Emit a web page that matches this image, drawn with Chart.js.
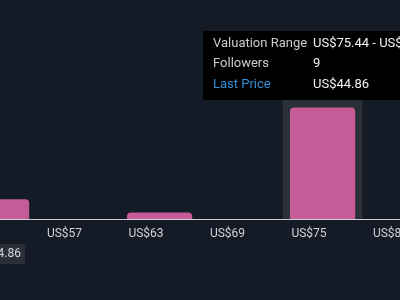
<!DOCTYPE html>
<html>
<head>
<meta charset="utf-8">
<script src="https://cdn.jsdelivr.net/npm/chart.js@4/dist/chart.umd.min.js"></script>
<style>
  html, body { margin: 0; padding: 0; background: #151b26; }
  canvas { display: block; }
</style>
</head>
<body>
<canvas id="myChart" width="400" height="300"></canvas>
<script>
// Les donnees du graphique (histogramme des valorisations)
const binCenters = [52, 58, 64, 70, 76, 82] // centre de chaque tranche (US$)
const followers = [2, null, 1, null, 9, null] // nombre de followers par tranche
const tickValues = [57, 63, 69, 75, 81] // graduations de l'axe x
const activeIndex = 4 // la barre survolee
const activeRange = "US$75.44 - US$81.44"
const lastPrice = "US$44.86"

const graph = document.getElementById("myChart")

// Le fond grise derriere la barre survolee
const hoverColumn = {
    id: "hoverColumn",
    beforeDatasetsDraw(chart) {
        const ctx = chart.ctx
        const x = chart.scales.x
        const bar = chart.getDatasetMeta(0).data[activeIndex]
        const left = x.getPixelForValue(binCenters[activeIndex] - 3) + 1
        const right = x.getPixelForValue(binCenters[activeIndex] + 3) - 1
        ctx.save()
        ctx.fillStyle = "#2a2f38"
        ctx.fillRect(left, bar.y - 8, right - left, chart.chartArea.bottom - bar.y + 8)
        ctx.restore()
    }
}

// La bulle d'info et l'etiquette du dernier prix
const infoBox = {
    id: "infoBox",
    afterDraw(chart) {
        const ctx = chart.ctx
        ctx.save()
        ctx.fillStyle = "#000000"
        ctx.fillRect(203, 31, 220, 69)
        ctx.font = "13px Roboto"
        ctx.textBaseline = "middle"
        const rows = [
            ["Valuation Range", activeRange, "#c9cbcf"],
            ["Followers", String(followers[activeIndex]), "#c9cbcf"],
            ["Last Price", lastPrice, "#2f8fd8"]
        ]
        rows.forEach((row, i) => {
            const y = 44 + i * 20.2
            ctx.fillStyle = row[2]
            ctx.textAlign = "left"
            ctx.fillText(row[0], 213, y)
            ctx.fillStyle = "#f2f2f2"
            ctx.fillText(row[1], 313, y)
        })
        // etiquette du dernier prix en bas a gauche
        ctx.fillStyle = "#2a2f38"
        ctx.beginPath()
        ctx.roundRect(-40, 244, 65, 20, 3)
        ctx.fill()
        ctx.font = "12px Roboto"
        ctx.fillStyle = "#d6d8dc"
        ctx.textAlign = "right"
        ctx.fillText(lastPrice, 21, 254)
        ctx.restore()
    }
}

// eslint-disable-next-line no-undef
new Chart(graph, {
    type: "bar",
    data: {
        datasets: [{
            data: binCenters.map((x, i) => ({ x: x, y: followers[i] })),
            backgroundColor: "#c55b97",
            borderRadius: { topLeft: 4, topRight: 4 },
            borderSkipped: "start",
            barPercentage: 0.8,
            categoryPercentage: 1
        }]
    },
    options: {
        responsive: false,
        animation: false,
        layout: { padding: 0 },
        plugins: {
            legend: { display: false },
            tooltip: { enabled: false }
        },
        scales: {
            x: {
                type: "linear",
                offset: false,
                min: 52.25,
                max: 81.7,
                grid: { display: false, drawTicks: false },
                border: { display: true, color: "#cfd1d4", width: 1 },
                ticks: {
                    color: "#cfd2d6",
                    font: { family: "Roboto", size: 12 },
                    padding: 8,
                    autoSkip: false,
                    maxRotation: 0,
                    callback: v => "US$" + v
                },
                afterBuildTicks: scale => {
                    scale.ticks = tickValues.map(v => ({ value: v }))
                },
                afterFit: scale => {
                    scale.paddingLeft = 0
                    scale.paddingRight = 0
                    scale.height = 81
                }
            },
            y: {
                display: false,
                min: 0.5,
                max: 17.2
            }
        }
    },
    plugins: [hoverColumn, infoBox]
})
</script>
</body>
</html>
